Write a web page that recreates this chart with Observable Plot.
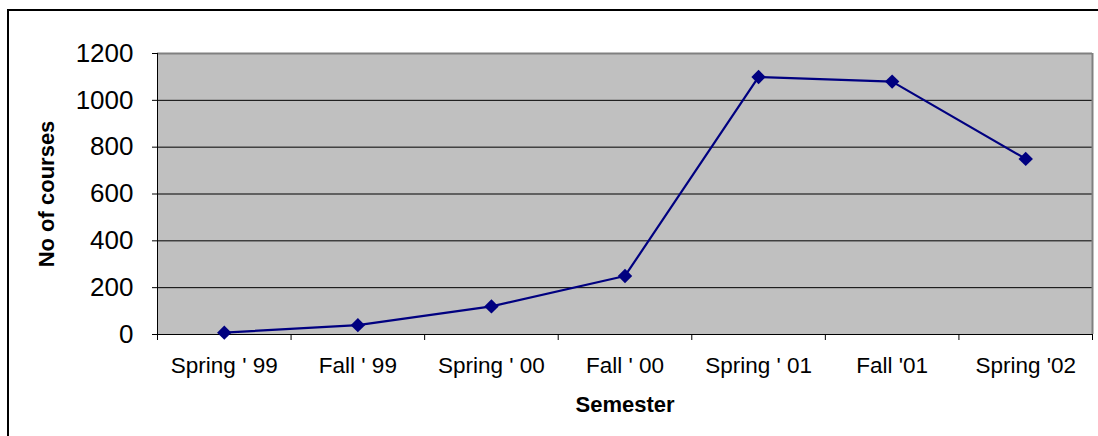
<!DOCTYPE html>
<html>
<head>
<meta charset="utf-8">
<script src="https://cdn.jsdelivr.net/npm/d3@7"></script>
<script src="https://cdn.jsdelivr.net/npm/@observablehq/plot@0.6"></script>
<style>
  html, body { margin: 0; padding: 0; background: #fff; }
  #wrap { position: relative; width: 1098px; height: 436px; overflow: hidden; }
  #wrap::after { content: ""; position: absolute; left: 7px; top: 9px; right: -10px; bottom: -10px;
    border-left: 2px solid #000; border-top: 2px solid #000; pointer-events: none; }
  svg { display: block; font-family: "Liberation Sans", Arial, sans-serif; }
</style>
</head>
<body>
<div id="wrap"></div>
<script>
const semesters = ["Spring ' 99", "Fall ' 99", "Spring ' 00", "Fall ' 00", "Spring ' 01", "Fall '01", "Spring '02"];
const courses = [8, 40, 120, 250, 1100, 1080, 750];
const yTicks = [0, 200, 400, 600, 800, 1000, 1200];
const yTitle = "No of courses";
const xTitle = "Semester";

const data = semesters.map((s, i) => ({pos: i + 0.5, semester: s, courses: courses[i]}));
const n = semesters.length;
const boundaries = d3.range(n + 1);
const centers = data.map(d => d.pos);

const chart = Plot.plot({
  width: 1098,
  height: 436,
  marginLeft: 157,
  marginRight: 6,
  marginTop: 53,
  marginBottom: 102,
  style: {fontFamily: "'Liberation Sans', Arial, sans-serif", background: "transparent", color: "#000"},
  x: {type: "linear", domain: [0, n]},
  y: {domain: [0, 1200]},
  marks: [
    Plot.frame({fill: "#c0c0c0", stroke: "none"}),
    Plot.gridY(yTicks.filter(t => t > 0 && t < 1200), {stroke: "#000", strokeOpacity: 1, strokeWidth: 1}),
    Plot.ruleY([1200], {stroke: "#808080", strokeWidth: 2}),
    Plot.ruleX([n], {stroke: "#808080", strokeWidth: 2}),
    Plot.ruleX([0], {stroke: "#000", strokeWidth: 1}),
    Plot.ruleY([0], {stroke: "#000", strokeWidth: 1}),
    Plot.axisY(yTicks, {tickSize: 5, tickPadding: 19, fontSize: 26, label: null, stroke: "#000",
      tickFormat: d => String(d)}),
    Plot.axisX(boundaries, {tickSize: 6, tickFormat: () => "", label: null, stroke: "#000"}),
    Plot.axisX(centers, {tickSize: 0, tickPadding: 23, fontSize: 22.5, label: null,
      tickFormat: (d) => semesters[Math.round(d - 0.5)]}),
    Plot.line(data, {x: "pos", y: "courses", stroke: "#000080", strokeWidth: 2.2}),
    Plot.dot(data, {x: "pos", y: "courses", symbol: "diamond2", fill: "#000080", stroke: "none", r: 6.5}),
    Plot.text([yTitle], {frameAnchor: "left", rotate: -90, dx: -111, textAnchor: "middle", lineAnchor: "middle",
      fontSize: 22, fontWeight: "bold", fill: "#000"}),
    Plot.text([xTitle], {frameAnchor: "bottom", dy: 70, textAnchor: "middle", lineAnchor: "middle",
      fontSize: 22, fontWeight: "bold", fill: "#000"})
  ]
});
document.getElementById("wrap").appendChild(chart);
</script>
</body>
</html>
